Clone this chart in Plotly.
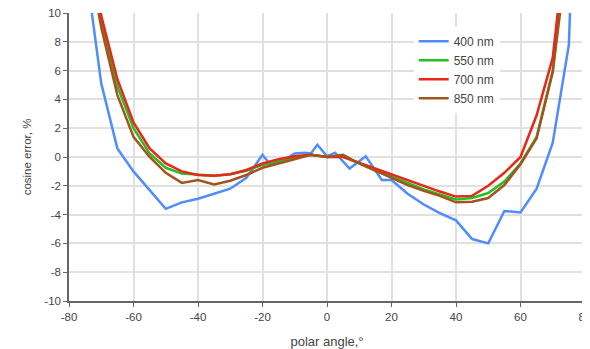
import plotly.graph_objects as go

# ---- data ----
angle_common = [-75, -70, -65, -60, -55, -50, -45, -40, -35, -30, -25, -20, -15, -10, -5,
                0, 5, 10, 15, 20, 25, 30, 35, 40, 45, 50, 55, 60, 65, 70, 75]

err_550 = [16, 9.3, 4.9, 2.0, 0.25, -0.75, -1.15, -1.25, -1.3, -1.2, -0.95, -0.55, -0.25, 0.0, 0.15,
           0.0, 0.05, -0.45, -0.95, -1.35, -1.8, -2.25, -2.6, -2.95, -2.85, -2.5, -1.7, -0.45, 1.4, 6.0, 16]

err_700 = [17, 9.8, 5.4, 2.4, 0.6, -0.45, -1.0, -1.25, -1.3, -1.2, -0.9, -0.45, -0.15, 0.05, 0.15,
           0.0, 0.0, -0.4, -0.85, -1.2, -1.65, -2.05, -2.4, -2.75, -2.7, -2.0, -1.1, 0.0, 2.9, 6.9, 17]

err_850 = [15, 9.0, 4.3, 1.4, 0.0, -1.1, -1.8, -1.6, -1.9, -1.65, -1.25, -0.75, -0.45, -0.15, 0.15,
           0.0, 0.15, -0.45, -0.95, -1.4, -1.95, -2.35, -2.7, -3.15, -3.1, -2.85, -1.95, -0.5, 1.3, 5.9, 15]

angle_400 = [-75, -70, -65, -60, -55, -50, -45, -40, -35, -30, -25, -20, -17.5, -14, -10, -7, -5,
             -3, 0, 2.5, 7, 12, 17, 20, 25, 30, 35, 40, 45, 50, 55, 60, 65, 70, 75, 80]
err_400 = [13.5, 5.1, 0.6, -1.0, -2.3, -3.6, -3.15, -2.9, -2.55, -2.2, -1.45, 0.15, -0.55, -0.3, 0.25, 0.3, 0.25,
           0.85, 0.05, 0.3, -0.8, 0.05, -1.6, -1.6, -2.55, -3.3, -3.9, -4.4, -5.7, -6.0, -3.75, -3.85, -2.2, 1.0, 7.8, 40]

series_names = ["400 nm", "550 nm", "700 nm", "850 nm"]
series_colors = ["#4f8cff", "#22c022", "#e8261a", "#a5531c"]

x_tickvals = [-80, -60, -40, -20, 0, 20, 40, 60, 80]
x_ticktext = ["-80", "-60", "-40", "-20", "0", "20", "40", "60", "80"]
y_tickvals = [-10, -8, -6, -4, -2, 0, 2, 4, 6, 8, 10]
y_ticktext = ["-10", "-8", "-6", "-4", "-2", "0", "2", "4", "6", "8", "10"]

fig = go.Figure()
xs = [angle_400, angle_common, angle_common, angle_common]
ys = [err_400, err_550, err_700, err_850]
for name, color, x, y in zip(series_names, series_colors, xs, ys):
    fig.add_trace(go.Scatter(x=x, y=y, mode="lines", name=name,
                             line=dict(color=color, width=2.5), cliponaxis=True))

font = "Liberation Sans, Arial, sans-serif"
# the page body adds an 8 px offset, so the figure is 8 px smaller than the window
fig.update_layout(
    width=582, height=341,
    margin=dict(l=61, r=5, t=5, b=48, autoexpand=False),
    paper_bgcolor="white", plot_bgcolor="white",
    font=dict(family=font, size=11.5, color="#444"),
    showlegend=True,
    legend=dict(x=0.668, y=0.952, xanchor="left", yanchor="top",
                bgcolor="white", borderwidth=0, font=dict(size=12, color="#444"),
                tracegroupgap=0),
    xaxis=dict(range=[-80, 80], tickvals=x_tickvals, ticktext=x_ticktext,
               automargin=False, ticklabeloverflow="allow",
               showgrid=True, gridcolor="#e0e0e0", gridwidth=2,
               zeroline=False, showline=True, linecolor="#666", linewidth=1.5,
               ticks="outside", ticklen=4, tickcolor="#666",
               title=dict(text="polar angle,°", font=dict(size=13, color="#444"), standoff=15),
               mirror=False),
    yaxis=dict(range=[-10, 10], tickvals=y_tickvals, ticktext=y_ticktext,
               automargin=False, ticklabeloverflow="allow",
               showgrid=True, gridcolor="#e0e0e0", gridwidth=2,
               zeroline=False, showline=True, linecolor="#666", linewidth=1.5,
               ticks="outside", ticklen=4, tickcolor="#666",
               title=dict(text="cosine error, %", font=dict(size=11.5, color="#444"), standoff=10)),
)

fig.write_html("out.html")
